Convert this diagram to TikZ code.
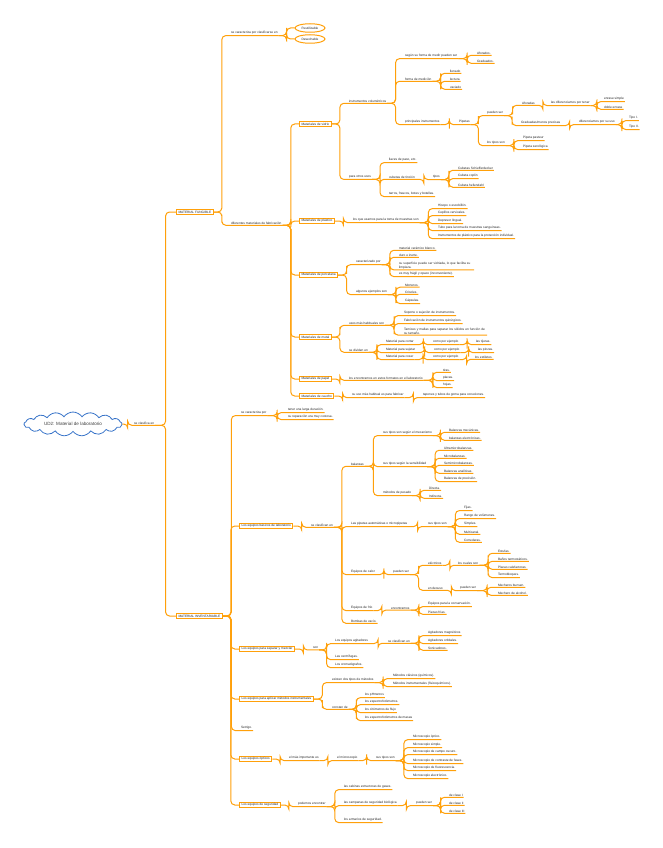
\documentclass[tikz,border=0pt]{standalone}
\usepackage{fontspec}
\newfontfamily\tf{Liberation Sans}
\usetikzlibrary{shapes.geometric,shapes.symbols,calc}
\definecolor{ln}{RGB}{255,160,10}
\definecolor{cl}{RGB}{55,115,200}
\tikzset{
 t/.style={font=\tf\fontsize{3.2}{3.7}\selectfont, anchor=west, inner xsep=0.8pt, inner ysep=0.9pt, text=black!85},
 bx/.style={t, draw=ln, line width=1pt, inner xsep=2pt, inner ysep=1.4pt},
 el/.style={t, ellipse, draw=ln, line width=1pt, anchor=center, minimum width=30pt, minimum height=8.5pt, inner sep=0pt},
 br/.style={draw=ln, line width=1pt, rounded corners=4pt},
 tw/.style={text width=#1, align=left},
}
\newcommand\lk[3]{\draw[br] (#1) -| ($(#1)!.5!(#2)$) |- (#3);}
\newcommand\cUU[2]{\lk{#1.south east}{#2.south west}{#2.south east}}
\newcommand\cBU[2]{\lk{#1.east}{#2.south west}{#2.south east}}
\newcommand\cUB[2]{\lk{#1.south east}{#2.west}{#2.west}}
\begin{document}
\begin{tikzpicture}[x=1pt,y=-1pt]
\useasboundingbox (0,0) rectangle (662,848);
% root
\node[cloud, cloud puffs=17, cloud puff arc=110, aspect=5, draw=cl, line width=0.8pt, minimum width=98pt, minimum height=21pt, inner sep=0pt, font=\tf\fontsize{4.6}{5}\selectfont, text=black!75] (root) at (73,424) {UD2: Material de laboratorio};
\node[t] (cls) at (133,423) {se clasifica en};
\node[bx] (fun) at (176,212) {MATERIAL FUNGIBLE};
\node[bx] (inv) at (176,616) {MATERIAL INVENTARIABLE};
% fungible
\node[t] (car1) at (230,33) {se caracteriza por clasificarse en};
\node[el] (reu) at (310,28) {Reutilizable};
\node[el] (des) at (310,39) {Desechable};
\node[t] (dif) at (230,223) {diferentes materiales de fabricación};
\node[bx] (vid) at (299,124) {Materiales de vidrio};
\node[bx] (pla) at (299,221) {Materiales de plástico};
\node[bx] (por) at (299,275) {Materiales de porcelana};
\node[bx] (met) at (299,337) {Materiales de metal};
\node[bx] (pap) at (299,379) {Materiales de papel};
\node[bx] (cau) at (299,396) {Materiales de caucho};
% vidrio
\node[t] (ivol) at (348,101) {instrumentos volumétricos};
\node[t] (seg) at (404,56) {según su forma de medir pueden ser};
\node[t] (afo) at (476,53) {Aforados.};
\node[t] (gra) at (476,61) {Graduados.};
\node[t] (fme) at (404,79) {forma de medición};
\node[t] (lle) at (449,71) {llenado};
\node[t] (lec) at (449,79) {lectura};
\node[t] (vac) at (449,87) {vaciado};
\node[t] (pins) at (404,122) {principales instrumentos};
\node[t] (pip) at (458,122) {Pipetas};
\node[t] (pue) at (486,113) {pueden ser};
\node[t] (afa) at (521,103) {Aforadas};
\node[t] (ldif) at (550,103) {las diferenciamos por tener};
\node[t] (ens) at (603,99) {enrase simple};
\node[t] (den) at (603,107) {doble enrase};
\node[t] (grd) at (520,123) {Graduadas/menos precisas};
\node[t] (dpu) at (578,122) {diferenciamos por su uso};
\node[t] (t1) at (628,118) {Tipo I.};
\node[t] (t2) at (628,127) {Tipo II.};
\node[t] (lts) at (486,143) {los tipos son};
\node[t] (pp) at (522,138) {Pipeta pasteur};
\node[t] (ps) at (522,147) {Pipeta serológica};
\node[t] (otr) at (348,177) {para otros usos};
\node[t] (lla) at (388,160) {llaves de paso, etc.};
\node[t] (cub) at (388,177) {cubetas de tinción};
\node[t] (tip) at (432,177) {tipos};
\node[t] (c1) at (457,168) {Cubetas Schiefferdecker};
\node[t] (c2) at (457,176) {Cubeta coplin};
\node[t] (c3) at (457,185) {Cubeta hellendahl};
\node[t] (tar) at (388,194) {tarros, frascos, botes y botellas.};
% plastico
\node[t] (lqu) at (352,220) {los que usamos para la toma de muestras son};
\node[t] (h1) at (437,206) {Hisopo o escobillón.};
\node[t] (h2) at (437,213) {Cepillos cervicales.};
\node[t] (h3) at (437,221) {Depresor lingual.};
\node[t] (h4) at (437,228) {Tubo para la toma de muestras sanguíneas.};
\node[t] (h5) at (437,236) {Instrumentos de plástico para la protección individual.};
% porcelana
\node[t] (cpor) at (355,262) {caracterizado por};
\node[t] (p1) at (398,248) {material cerámico blanco.};
\node[t] (p2) at (398,255) {duro e inerte.};
\node[t,tw=74pt] (p3) at (398,265.5) {su superficie puede ser vidriada, lo que facilita su limpieza.};
\node[t] (p4) at (398,274) {es muy frágil y opaco (inconveniente).};
\node[t] (aej) at (355,292) {algunos ejemplos son};
\node[t] (m1) at (404,285) {Morteros.};
\node[t] (m2) at (404,292) {Crisoles.};
\node[t] (m3) at (404,301) {Cápsulas.};
% metal
\node[t] (usos) at (348,323) {usos más habituales son};
\node[t] (u1) at (403,313) {Soporte o sujeción de instrumentos.};
\node[t] (u2) at (403,321) {Fabricación de instrumentos quirúrgicos.};
\node[t,tw=82pt] (u3) at (403,331) {Tamices y mallas para separar los sólidos en función de su tamaño.};
\node[t] (sdiv) at (348,350) {se dividen en};
\node[t] (mc) at (385,342) {Material para cortar};
\node[t] (cpe1) at (432,342) {como por ejemplo};
\node[t] (tij) at (475,342) {las tijeras.};
\node[t] (ms) at (385,350) {Material para sujetar};
\node[t] (cpe2) at (433,350) {como por ejemplo};
\node[t] (pin) at (477,350) {las pinzas.};
\node[t] (mco) at (385,357) {Material para coser};
\node[t] (cpe3) at (432,357) {como por ejemplo};
\node[t] (est) at (474,357) {los estiletes.};
% papel, caucho
\node[t] (len) at (348,378) {los encontramos en estos formatos en el laboratorio};
\node[t] (f1) at (442,370) {tiras.};
\node[t] (f2) at (442,378) {placas.};
\node[t] (f3) at (442,385) {hojas.};
\node[t] (suso) at (351,395) {su uso más habitual es para fabricar};
\node[t] (tap) at (422,395) {tapones y tubos de goma para conexiones.};
% inventariable
\node[t] (car2) at (240,413) {se caracteriza por};
\node[t] (ld) at (287,410) {tener una larga duración.};
\node[t] (rep) at (287,417) {su reparación era muy costosa.};
\node[bx] (eqb) at (239,526) {Los equipos básicos de laboratorio};
\node[t] (scl) at (310,525) {se clasifican en};
\node[t] (bal) at (350,464) {balanzas};
\node[t] (st1) at (382,433) {sus tipos son según el mecanismo};
\node[t] (b1) at (448,430) {Balanzas mecánicas.};
\node[t] (b2) at (448,438) {balanzas electrónicas.};
\node[t] (st2) at (382,464) {sus tipos según la sensibilidad};
\node[t] (s1) at (443,448) {Ultramicrobalanzas.};
\node[t] (s2) at (443,456) {Microbalanzas.};
\node[t] (s3) at (443,463) {Semimicrobalanzas.};
\node[t] (s4) at (443,471) {Balanzas analíticas.};
\node[t] (s5) at (443,479) {Balanzas de precisión.};
\node[t] (mpe) at (382,493) {métodos de pesado};
\node[t] (d1) at (428,488) {Directa.};
\node[t] (d2) at (428,496) {Indirecta.};
\node[t] (lpa) at (350,524) {Las pipetas automáticas o micropipetas};
\node[t] (stp) at (427,524) {sus tipos son};
\node[t] (q1) at (463,508) {Fijas.};
\node[t] (q2) at (463,516) {Rango de volúmenes.};
\node[t] (q3) at (463,524) {Simples.};
\node[t] (q4) at (463,532) {Multicanal.};
\node[t] (q5) at (463,540) {Correderas.};
\node[t] (ecal) at (350,572) {Equipos de calor};
\node[t] (pse) at (392,572) {pueden ser};
\node[t] (ele) at (427,563) {eléctricos};
\node[t] (lcs) at (457,563) {los cuales son};
\node[t] (e1) at (497,551) {Estufas.};
\node[t] (e2) at (497,559) {Baños termostáticos.};
\node[t] (e3) at (497,567) {Placas calefactoras.};
\node[t] (e4) at (497,575) {Termobloques.};
\node[t] (edes) at (427,588) {en desuso};
\node[t] (pse2) at (459,588) {pueden ser};
\node[t] (mb) at (497,585) {Mecheros bunsen.};
\node[t] (ma) at (497,593) {Mechero de alcohol.};
\node[t] (efr) at (350,608) {Equipos de frío};
\node[t] (enc) at (390,608) {encontramos};
\node[t] (ecv) at (427,604) {Equipos para la conservación.};
\node[t] (pf) at (427,612) {Piezas frías.};
\node[t] (bom) at (350,621) {Bombas de vacío.};
\node[bx] (esm) at (239,649) {Los equipos para separar y mezclar};
\node[t] (son) at (312,648) {son};
\node[t] (eag) at (334,641) {Los equipos agitadores};
\node[t] (scl2) at (387,641) {se clasifican en};
\node[t] (a1) at (427,633) {Agitadores magnéticos};
\node[t] (a2) at (427,641) {Agitadores orbitales.};
\node[t] (a3) at (427,648) {Sonicadores.};
\node[t] (cen) at (334,657) {Las centrífugas.};
\node[t] (cro) at (334,665) {Los cromatógrafos.};
\node[bx] (emi) at (239,699) {Los equipos para aplicar métodos instrumentales};
\node[t] (edt) at (331,680) {existen dos tipos de métodos};
\node[t] (mcl) at (392,676) {Métodos clásicos (químicos).};
\node[t] (mins) at (392,684) {Métodos instrumentales (fisicoquímicos).};
\node[t] (cde) at (331,707) {constan de};
\node[t] (k1) at (364,695) {los pHmetros};
\node[t] (k2) at (364,702) {los espectrofotómetros.};
\node[t] (k3) at (364,710) {los citómetros de flujo};
\node[t] (k4) at (364,718) {los espectrofotómetros de masas};
\node[t] (setr) at (240,728) {Setrigo.};
\node[bx] (eop) at (239,759) {Los equipos ópticos};
\node[t] (mim) at (288,758) {el más importante es};
\node[t] (mic) at (336,758) {el microscopio};
\node[t] (stm) at (375,758) {sus tipos son};
\node[t] (o1) at (412,737) {Microscopio óptico.};
\node[t] (o2) at (412,745) {Microscopio simple.};
\node[t] (o3) at (412,752) {Microscopio de campo oscuro.};
\node[t] (o4) at (412,761) {Microscopio de contraste de fases.};
\node[t] (o5) at (412,768) {Microscopio de fluorescencia.};
\node[t] (o6) at (412,776) {Microscopio electrónico.};
\node[bx] (ese) at (239,805) {Los equipos de seguridad};
\node[t] (pen) at (297,804) {podemos encontrar};
\node[t] (cab) at (343,787) {las cabinas extractoras de gases.};
\node[t] (cam) at (343,803) {las campanas de seguridad biológica};
\node[t] (pse3) at (415,803) {pueden ser};
\node[t] (cI) at (448,795) {de clase I};
\node[t] (cII) at (448,803) {de clase II};
\node[t] (cIII) at (448,811) {de clase III};
\node[t] (arm) at (343,820) {los armarios de seguridad.};
% connectors
\lk{root.east}{cls.south west}{cls.south east}
\cUB{cls}{fun} \cUB{cls}{inv}
\cBU{fun}{car1} \cBU{fun}{dif}
\cUB{car1}{reu} \cUB{car1}{des}
\foreach \c in {vid,pla,por,met,pap,cau} {\cUB{dif}{\c}}
\cBU{vid}{ivol} \cBU{vid}{otr}
\foreach \c in {seg,fme,pins} {\cUU{ivol}{\c}}
\foreach \c in {afo,gra} {\cUU{seg}{\c}}
\foreach \c in {lle,lec,vac} {\cUU{fme}{\c}}
\cUU{pins}{pip}
\cUU{pip}{pue} \cUU{pip}{lts}
\cUU{pue}{afa} \cUU{pue}{grd}
\cUU{afa}{ldif} \cUU{ldif}{ens} \cUU{ldif}{den}
\cUU{grd}{dpu} \cUU{dpu}{t1} \cUU{dpu}{t2}
\cUU{lts}{pp} \cUU{lts}{ps}
\foreach \c in {lla,cub,tar} {\cUU{otr}{\c}}
\cUU{cub}{tip}
\foreach \c in {c1,c2,c3} {\cUU{tip}{\c}}
\cBU{pla}{lqu}
\foreach \c in {h1,h2,h3,h4,h5} {\cUU{lqu}{\c}}
\cBU{por}{cpor} \cBU{por}{aej}
\foreach \c in {p1,p2,p3,p4} {\cUU{cpor}{\c}}
\foreach \c in {m1,m2,m3} {\cUU{aej}{\c}}
\cBU{met}{usos} \cBU{met}{sdiv}
\foreach \c in {u1,u2,u3} {\cUU{usos}{\c}}
\foreach \c in {mc,ms,mco} {\cUU{sdiv}{\c}}
\cUU{mc}{cpe1} \cUU{cpe1}{tij}
\cUU{ms}{cpe2} \cUU{cpe2}{pin}
\cUU{mco}{cpe3} \cUU{cpe3}{est}
\cBU{pap}{len}
\foreach \c in {f1,f2,f3} {\cUU{len}{\c}}
\cBU{cau}{suso} \cUU{suso}{tap}
\cBU{inv}{car2} \cBU{inv}{setr}
\foreach \c in {eqb,esm,emi,eop,ese} {\lk{inv.east}{\c.west}{\c.west}}
\cUU{car2}{ld} \cUU{car2}{rep}
\cBU{eqb}{scl}
\foreach \c in {bal,lpa,ecal,efr,bom} {\cUU{scl}{\c}}
\foreach \c in {st1,st2,mpe} {\cUU{bal}{\c}}
\cUU{st1}{b1} \cUU{st1}{b2}
\foreach \c in {s1,s2,s3,s4,s5} {\cUU{st2}{\c}}
\cUU{mpe}{d1} \cUU{mpe}{d2}
\cUU{lpa}{stp}
\foreach \c in {q1,q2,q3,q4,q5} {\cUU{stp}{\c}}
\cUU{ecal}{pse}
\cUU{pse}{ele} \cUU{pse}{edes}
\cUU{ele}{lcs}
\foreach \c in {e1,e2,e3,e4} {\cUU{lcs}{\c}}
\cUU{edes}{pse2} \cUU{pse2}{mb} \cUU{pse2}{ma}
\cUU{efr}{enc} \cUU{enc}{ecv} \cUU{enc}{pf}
\cBU{esm}{son}
\foreach \c in {eag,cen,cro} {\cUU{son}{\c}}
\cUU{eag}{scl2}
\foreach \c in {a1,a2,a3} {\cUU{scl2}{\c}}
\cBU{emi}{edt} \cBU{emi}{cde}
\cUU{edt}{mcl} \cUU{edt}{mins}
\foreach \c in {k1,k2,k3,k4} {\cUU{cde}{\c}}
\cBU{eop}{mim} \cUU{mim}{mic} \cUU{mic}{stm}
\foreach \c in {o1,o2,o3,o4,o5,o6} {\cUU{stm}{\c}}
\cBU{ese}{pen}
\foreach \c in {cab,cam,arm} {\cUU{pen}{\c}}
\cUU{cam}{pse3}
\foreach \c in {cI,cII,cIII} {\cUU{pse3}{\c}}
\end{tikzpicture}
\end{document}
